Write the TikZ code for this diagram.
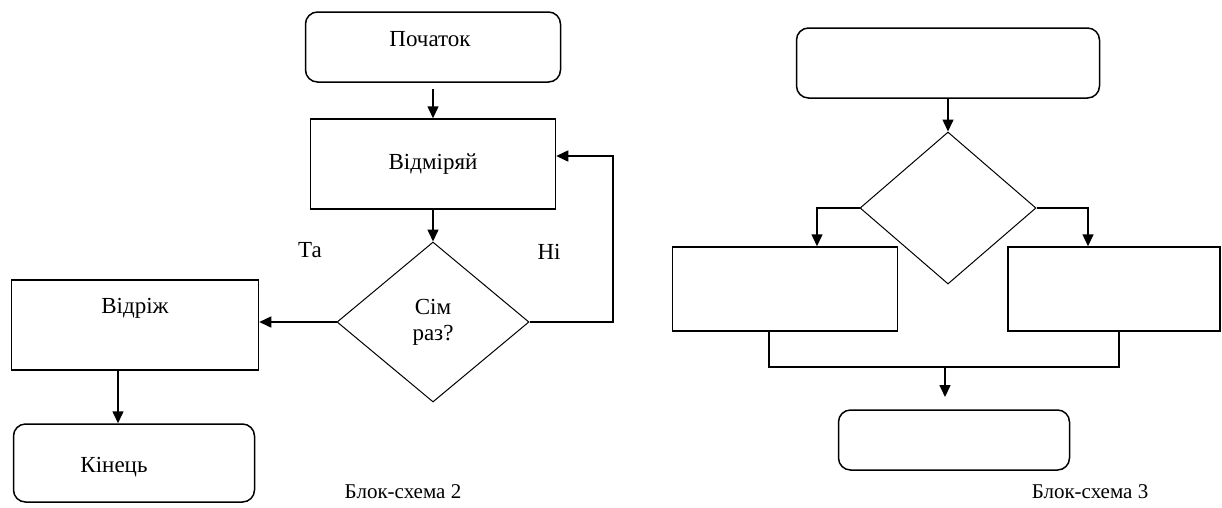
\documentclass[tikz,border=0pt]{standalone}
\usepackage{fontspec}
\setmainfont{Liberation Serif}
\usetikzlibrary{shapes.geometric, arrows.meta}

\begin{document}
\begin{tikzpicture}[x=1pt,y=-1pt,line width=1.5pt,
    font=\rmfamily\fontsize{23}{26}\selectfont,
    term/.style={draw, rounded corners=12pt, inner sep=0pt},
    proc/.style={draw, rectangle, inner sep=0pt},
    cond/.style={draw, diamond, inner sep=0pt, line width=1pt, align=center},
    arr/.style={-{Triangle[length=12pt,width=11pt]}}]
    \useasboundingbox (0,0) rectangle (1222,507);

    % block scheme 2
    \draw (433,47) node[term, minimum width=255pt, minimum height=70pt](start){};
    \node (startt) at (430,39) {Початок};
    \draw (433,164) node[proc, minimum width=245pt, minimum height=90pt](measure){Відміряй};
    \draw (433,322) node[cond, minimum width=192pt, minimum height=160pt](seven){Сім\\раз?};
    \draw (135,325) node[proc, minimum width=247pt, minimum height=90pt](cut){};
    \node (cutt) at (135,308) {Відріж};
    \draw (134,463) node[term, minimum width=241pt, minimum height=78pt](finish){};
    \node (finisht) at (114,467) {Кінець};
    \coordinate (loop) at (613,322);

    \node (yes) at (310,250) {Та};
    \node (no) at (549,252) {Ні};
    \node[font=\rmfamily\fontsize{21}{24}\selectfont] (cap2) at (403,492) {Блок-схема 2};

    \draw[arr] ([yshift=-6pt]start.south) -- (measure.north);
    \draw[arr] (measure.south) -- (seven.north);
    \draw[arr] (seven.west) -- (cut.east |- seven.west);
    \draw[arr] (seven.east) -- (loop) |- ([yshift=8pt]measure.east);
    \draw[arr] ([xshift=-17pt]cut.south) -- ([xshift=-17pt]cut.south |- finish.north);

    % block scheme 3
    \draw (948,63) node[term, minimum width=303pt, minimum height=70pt](top3){};
    \draw (948,208) node[cond, minimum width=176pt, minimum height=152pt](dec3){};
    \draw (785,289) node[proc, minimum width=225pt, minimum height=84pt](left3){};
    \draw (1114,289) node[proc, minimum width=212pt, minimum height=84pt](right3){};
    \draw (954,440) node[term, minimum width=231pt, minimum height=60pt](end3){};
    \coordinate (join3) at (945,367);
    \coordinate (stop3) at (945,397);
    \node[font=\rmfamily\fontsize{21}{24}\selectfont] (cap3) at (1090,492) {Блок-схема 3};

    \draw[arr] (top3.south) -- (dec3.north);
    \draw[arr] (dec3.west) -| ([xshift=32pt]left3.north);
    \draw[arr] (dec3.east) -| ([xshift=-26pt]right3.north);
    \draw ([xshift=-16pt]left3.south) |- (join3) -| ([xshift=5pt]right3.south);
    \draw[arr] (join3) -- (stop3);
\end{tikzpicture}
\end{document}
